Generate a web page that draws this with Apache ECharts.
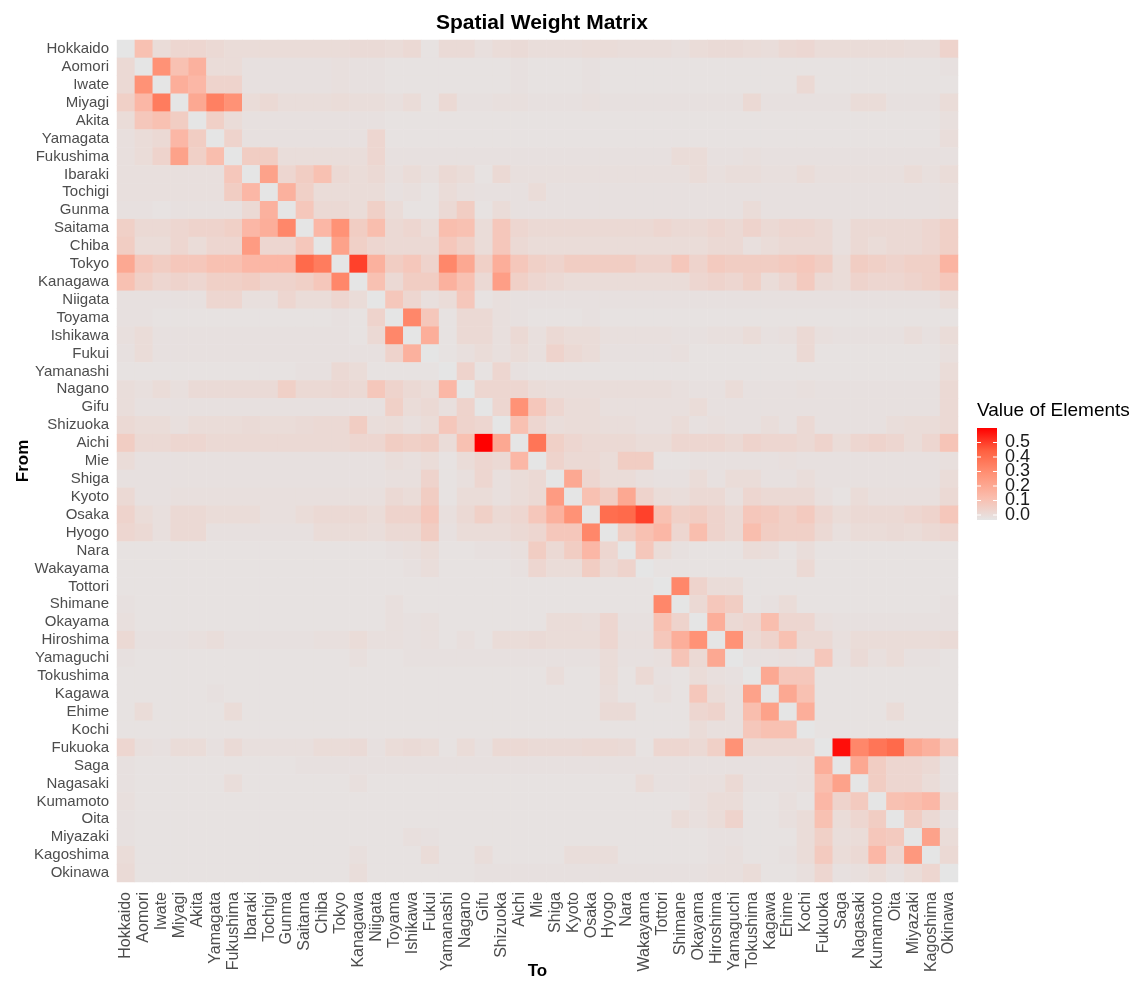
<!DOCTYPE html>
<html>
<head>
<meta charset="utf-8">
<script src="https://cdn.jsdelivr.net/npm/echarts@6/dist/echarts.min.js"></script>
<style>
html,body{margin:0;padding:0;background:#fff;}
#chart{width:1134px;height:984px;}
</style>
</head>
<body>
<div id="chart"></div>
<script>
const prefectures = ["Hokkaido","Aomori","Iwate","Miyagi","Akita","Yamagata","Fukushima","Ibaraki","Tochigi","Gunma","Saitama","Chiba","Tokyo","Kanagawa","Niigata","Toyama","Ishikawa","Fukui","Yamanashi","Nagano","Gifu","Shizuoka","Aichi","Mie","Shiga","Kyoto","Osaka","Hyogo","Nara","Wakayama","Tottori","Shimane","Okayama","Hiroshima","Yamaguchi","Tokushima","Kagawa","Ehime","Kochi","Fukuoka","Saga","Nagasaki","Kumamoto","Oita","Miyazaki","Kagoshima","Okinawa"];

// Spatial weights in percent (row = From, column = To)
const weightsPct = [
[0,12,3,5,5,4,3,3,3,3, 3,3,3,3.5,3.5,3,4,1,3.5,3.5, 2,3,3.5,2.5,2.5,2.5,3,3,2.5,2.5, 2.5,2,3,3.5,3.5,3,2.5,4,4.5,3, 3,3,3,3,2.5,2.5,6],
[4,0,27,12,17,3,3,1.5,1.5,1.5, 1.5,1.5,2,1.5,1.5,1,1,1,1,1, 1,1,1.5,1,1,1,1.5,1,1,1, 1,1,1,1,1,1,1,1,1,1, 1,1,1,1,1,1,1.5],
[4,27,0,18,15,6,6,1.5,1.5,1.5, 1.5,1.5,2,1.5,1.5,1,1,1,1,1, 1,1,1.5,1,1,1,1.5,1,1,1, 1,1,1,1,1,1,1,1,4,1, 1,1,1,1,1,1,1],
[7,15,33,0,20,32,27,3,4,2.5, 2.5,2.5,3,2.5,2.5,2,3,1,4,1.5, 1.5,2,2,1.5,1.5,1.5,2,1.5,1.5,1.5, 1.5,1.5,1.5,1.5,1.5,4,1.5,1.5,1.5,1.5, 1.5,3,3,1.5,1.5,1.5,3],
[3,10,12,8,0,7,3,1.5,1.5,1.5, 1.5,1.5,1.5,1.5,1.5,1,1,1,1,1, 1,1,1,1,1,1,1,1,1,1, 1,1,1,1,1,1,1,1,1,1, 1,1,1,1,1,1,2],
[2,3,4,15,8,0,6,1.5,1.5,1.5, 1.5,1.5,1.5,1.5,5,1,1,1,1,1, 1,1,1,1,1,1,1,1,1,1, 1,1,1,1,1,1,1,1,1,1, 1,1,1,1,1,1,2.5],
[2,3,6,22,7,13,0,8,8,2.5, 2.5,2.5,2.5,2.5,5,1.5,1.5,1.5,1.5,1.5, 1.5,1.5,1.5,1.5,1.5,1.5,1.5,1.5,1.5,1.5, 1.5,3,3,1.5,1.5,2,1.5,1.5,1.5,1.5, 1.5,1.5,1.5,1.5,1.5,1.5,1.5],
[2,2,2,2,2,2,10,0,22,5, 8,12,4,3,4,2,3,2,4,3, 1,4,2,2,2,2,2,2,2,2, 2,2,3,2,2.5,2.5,2,2,3,2, 2,2,2,2,3,2,3],
[2,2,2,2,2,2,8,15,0,17, 7,3,3,3,3,1.5,2,1,3,2, 1.5,1.5,1.5,3,1.5,1.5,1.5,1.5,1.5,1.5, 1.5,1.5,1.5,1.5,1.5,1.5,1.5,1.5,1.5,1.5, 1.5,1.5,1.5,1.5,1.5,1.5,2],
[1.5,1.5,1,1.5,1.5,1.5,1.5,4,17,0, 10,4,4,3,7,3,1,1,4,8, 1,3,1.5,1.5,1.5,1.5,1.5,1.5,1.5,1.5, 1.5,1.5,1.5,1.5,1.5,3,1.5,1.5,1.5,1.5, 1.5,1.5,1.5,1.5,1.5,1.5,2],
[7,4,4,5,6,6,7,15,18,30, 0,15,27,8,13,4,5,3,13,12, 3,10,5,4,4,4,4,4,4,4, 5,4,4,5,4,6,4,5,5,4, 2,4,4,4,4,5,7],
[8,3,3,5,3,5,5,24,5,5, 10,0,22,7,5,4,4,4,10,7, 3,10,4,3,3,3,3,3,3,3, 3,3,3,4,4,2,3,4,4,4, 2,4,3,4,4,5,7],
[20,10,8,10,10,12,12,15,15,15, 38,33,0,45,17,8,10,6,30,20, 7,18,10,7,6,8,8,8,8,6, 6,10,6,9,8,8,8,9,10,8, 3,8,7,6,7,7,16],
[12,7,5,6,5,7,7,8,6,6, 7,10,30,0,12,4,8,8,17,12, 4,23,7,5,4,3,3,3,3,3, 3,3,5,6,5,7,3,5,9,4, 3,6,5,5,6,7,10],
[1.5,1.5,1.5,1.5,1.5,5,5,2,2,5, 3,3,5,3,0,10,5,2,3,10, 1,2,1.5,1.5,1.5,1.5,1.5,1.5,1.5,1.5, 1.5,1.5,1.5,1.5,1.5,1.5,1.5,1.5,1.5,1.5, 1.5,1.5,1.5,1.5,1.5,1.5,3],
[1.5,1.5,1,1,1,1,1,1,1,1, 1,1,1.5,1,6,0,30,10,1,4, 4,2,1.5,1,1,1,1.5,1,1,1, 1,1,1,1,1,1,1,1,1,1, 1,1,1,1,1,1,1],
[2,3,1.5,1.5,1.5,1.5,1.5,1.5,1.5,1.5, 1.5,1.5,1.5,1,4,30,0,18,1,4, 4,2,4,2,4,3,3,2,2,2, 2,1.5,1.5,2,2,3,1.5,2,4,2, 1.5,1.5,1.5,1.5,2.5,1.5,3],
[1.5,3,1.5,1.5,1.5,1.5,1.5,1.5,1.5,1.5, 1.5,1.5,1.5,1.5,1.5,6,17,0,1,2, 3,2,3,2,6,4,3,1.5,1.5,1.5, 1.5,2,1,1,1,1,1,1,4,1, 1,1,1,1,1,1,2],
[1,1,1,1,1,1,1,1,1,1, 1.5,1.5,4,3,1,1,1,1,0,6, 1,5,1.5,1,1,1,1,1,1,1, 1,1,1,1,1,1,1,1,1,1, 1,1,1,1,1,1,3],
[2.5,2,3,2,3.5,3.5,3.5,3.5,3.5,7, 4,4,4.5,4,10,6,4,3,15,0, 5,5,5,3,2.5,2.5,2.5,2.5,2.5,2.5, 2.5,2,1.5,1.5,3,1.5,1.5,1.5,2,1.5, 1.5,1.5,1.5,1.5,1.5,1.5,4],
[2.5,1.5,1.5,1.5,1.5,1.5,1.5,1.5,1.5,1.5, 1.5,1.5,1.5,1.5,1.5,7,3,4,2,6, 0,5,27,10,5,3,3,2,2,2, 2,2,3,1.5,1.5,1.5,1.5,1.5,1.5,1.5, 1.5,1.5,1.5,1.5,1.5,1.5,4],
[4,3,3,2,3,3,3,3.5,3,3, 3.5,4,4,8,2.5,3,2,3,10,6, 5,0,12,5,2.5,3,3,2.5,2.5,2, 2,3,1.5,2,1.5,1.5,2.5,1.5,4,1.5, 1.5,1.5,1.5,2.5,3,3,4],
[8,4,4,5,5,4,4,4,4,4, 4,4,4,5,5,8,7,8,3,12, 54,20,0,35,7,5,4,4,4,3, 3,5,5,5,4,6,5,5,4,6, 3,5,6,5,3,5,11],
[3,1.5,1.5,1.5,1.5,1.5,1.5,1.5,1.5,1.5, 1.5,1.5,1.5,1.5,1.5,2.5,2,3,1,3, 5,4,15,0,6,4,4,3,8,8, 1,1,1.5,1.5,1.5,1.5,1.5,2,1.5,1.5, 1.5,1.5,1.5,1.5,1.5,1.5,2],
[1.5,1.5,1.5,1.5,1.5,1.5,1.5,1.5,1.5,1.5, 1.5,1.5,1.5,1.5,1.5,2,2,6,1,2, 5,2,3,4,0,20,5,3,3,2, 1.5,1.5,3,1.5,3,3,1.5,1.5,2.5,1.5, 1.5,1.5,1.5,1.5,1.5,1.5,3],
[4,1.5,1.5,2,2,2,2,2,2,2, 2,2,2,2,2,4,3,8,1,3, 3,2,3,4,24,0,12,8,20,6, 3,2.5,4,4,2,5,4,4,4,2, 1,3,2,2,2,2,4],
[6,3,2,4,4,3,3,3,2,2, 3,4,4,4,3,6,6,10,2,4, 7,4,5,10,17,27,0,37,38,45, 12,7,8,6,4,10,9,7,9,5, 3,4,4,4,5,6,10],
[5,4,2,4,4,1.5,1.5,1.5,1.5,1.5, 1.5,3,3,3,2.5,4,4,8,1.5,3, 3,3,4,5,10,10,30,0,8,12, 15,5,13,6,4,13,8,7,7,4, 2,3,3,3.5,3,4,5],
[1,1,1,1,1,1,1,1,1,1, 1,1,1,1,1,1.5,2,3,1,1, 1.5,1.5,2,8,4,8,15,5,0,10, 3,1.5,1,1,1,3,2.5,1,2.5,1, 1,1,1,1,1,1,1],
[1,1,1,1,1,1,1,1,1,1, 1,1,1,1,1,1,1.5,2.5,1,1, 1,1,1.5,5,3,3,8,4,6,0, 1,1,1,1,1,1,1,1,4,1, 1,1,1,1,1,1,1],
[1,1,1,1,1,1,1,1,1,1, 1,1,1,1,1,1,1,1,1,1, 1,1,1,1,1,1,1,1,1,1, 0,30,6,3,3,1,1,1,1,1, 1,1,1,1,1,1,1],
[1.5,1,1,1,1,1,1,1,1,1, 1,1,1,1,1,2,1,1,1,1, 1,1,1,1,1,1,1,1,1,1, 30,0,4,10,8,1,1.5,3,1,1, 1,1,1,1,1,1,1.5],
[2,1,1,1,1,1,1,1,1,1, 1,1,1,1,1,2,1.5,2,1,1, 1,1,1,1,3,3,2.5,5,1.5,1.5, 12,6,0,18,4,5,13,5,5,2, 1.5,1.5,1.5,1.5,1.5,1.5,1.5],
[4,1.5,1.5,1.5,2,2.5,1.5,1.5,1.5,1.5, 1.5,2,2,3,2,2,1.5,2,1,2, 1,3,3,3.5,3,3,3,5,2,2, 10,18,27,0,27,4,6,12,4,4, 2,3,3,3,3,3,3.5],
[1.5,1,1,1,1,1,1,1,1,1, 1,1,1,2,1,1,1.5,1.5,1.5,1.5, 1.5,1.5,1.5,1.5,1.5,1.5,1.5,3,1.5,1.5, 2,11,4,20,0,1.5,1.5,2,1.5,10, 1.5,3.5,2,3,1.5,1.5,1],
[1,1,1,1,1,1,1,1,1,1, 1,1,1,1,1,1,1,1,1,1, 1,1,1,1,2.5,1,1,3,1,4, 1.5,1,3,2,1.5,0,20,10,10,1, 1,1,1,1,1,1,1],
[1,1,1,1,1,1.5,1,1,1,1, 1,1,1,1,1,1,1,1,1,1, 1,1,1,1,1,1,1,2.5,1,1, 2,1,10,3,2,22,0,20,12,1, 1,1,1,1,1,1,1],
[1,3,1,1,1,1,3,1,1,1, 1,1,1,1,1,1,1,1,1,1, 1,1,1,1,1,1,1,3.5,3.5,1, 1,1,5,6,2,13,22,0,18,1, 1,1,1,3,1,1,1],
[1,1,1,1,1,1,1,1,1,1, 1,1,1,1,1,1,1,1,1,1, 1,1,1,1,1,1,1,1,1,1, 1,1,3,2,2,10,12,12,0,1, 1,1,1,1,1,1,1],
[5,2,1.5,3,3,1.5,3.5,2,2,2, 2,3,3,3.5,1.5,3,3.5,3,1,3, 1.5,4,4,3.5,3.5,3.5,4,4,3.5,1, 5,5,4,7,27,4,4,4,4,0, 52,30,35,38,20,17,10],
[1.5,1,1,1,1,1,1,1,1,1, 1.5,1.5,1.5,1.5,1.5,1.5,1.5,1.5,1.5,1.5, 1.5,1.5,1.5,1.5,1.5,1.5,1.5,1.5,1.5,1.5, 1.5,1.5,1.5,1.5,1.5,1.5,1.5,1.5,2,18, 0,20,8,5,5,4,1.5],
[1.5,1,1,1,1,1,2.5,1,1,1, 1,1,1,2,1,1,1,1,1,1, 1,1,1,1,1,1,1,1,1,3, 1.5,1.5,2,2,4,1.5,1.5,1.5,2,13, 22,0,8,5,5,3,1.5],
[2,1,1,1,1,1,1,1,1,1, 1,1,1,1,1,1,1,1,1,1, 1,1,1,1,1,1,1,1,1,1, 1,1,2,3,3,1,1,2,1,15, 6,9,0,12,13,15,4],
[1.5,1,1,1,1,1,1,1,1,1, 1,1,1,1,1,1,1,1,1,1, 1,1,1,1,1,1,1,1,1,1, 1,3,2,3,6,1,1,2,3,12, 3,5,8,0,8,4,1.5],
[1.5,1,1,1,1,1,1,1,1,1, 1,1,1,1,1,1,2,1.5,1,1, 1,1,1,1,1,1,1,1,1,1, 1,1,1,1.5,1.5,1,1,1,3,7, 2.5,3,10,9,0,22,3],
[3,1,1,1,1,1,1,1,1,1, 1,1,1,2,1,1,1,3,1,1, 2.5,1,1,1,1,2.5,2.5,2.5,1,1, 1,1,1,1.5,2,1,1,1.5,3,9, 3,4,15,5,25,0,4],
[3.5,1,1,1,1,1,1,1,1,1, 1,1,1,2.5,1,1,1,1,1,1, 1.5,1.5,1.5,1.5,1.5,1.5,1.5,1.5,1.5,1.5, 1.5,1.5,1.5,2,2,3,1,1,2,5, 1.5,2,3,1.5,3,5,0]
];

const legendTicks = [0, 0.1, 0.2, 0.3, 0.4, 0.5];
const colorMax = 0.54;
const colorStops = ['#E5E5E5', '#FABCAC', '#FF9276', '#FF6141', '#FF0000'];

weightsPct.forEach((r, i) => { if (r.length !== prefectures.length) throw new Error('row ' + i + ' has ' + r.length); });
if (weightsPct.length !== prefectures.length) throw new Error('rows ' + weightsPct.length);

const cells = [];
weightsPct.forEach((row, i) => row.forEach((p, j) => cells.push([j, i, p / 100])));

const FONT = 'Liberation Sans, Arial, Helvetica, sans-serif';
const chart = echarts.init(document.getElementById('chart'), null, {renderer: 'canvas'});

// legend geometry
const barX = 977, barTop = 428, barW = 20, barH = 92;
const labY = v => 515 - v * 145;
const graphics = [
  {type: 'text', left: 977, top: 401, style: {text: 'Value of Elements', font: '19px ' + FONT, fill: '#000'}},
  {type: 'rect', shape: {x: barX, y: barTop, width: barW, height: barH},
   style: {fill: new echarts.graphic.LinearGradient(0, 0, 0, 1,
     colorStops.slice().reverse().map((c, k) => ({offset: k / (colorStops.length - 1), color: c})))}}
];
legendTicks.forEach(v => {
  const y = labY(v);
  graphics.push({type: 'text', x: 1005, y: y, style: {text: v.toFixed(1), font: '18px ' + FONT, fill: '#1A1A1A', textVerticalAlign: 'middle', verticalAlign: 'middle'}});
  graphics.push({type: 'line', shape: {x1: barX, y1: y, x2: barX + 4, y2: y}, style: {stroke: '#fff', lineWidth: 1}});
  graphics.push({type: 'line', shape: {x1: barX + barW - 4, y1: y, x2: barX + barW, y2: y}, style: {stroke: '#fff', lineWidth: 1}});
});

chart.setOption({
  animation: false,
  backgroundColor: '#fff',
  textStyle: {fontFamily: FONT},
  title: {
    text: 'Spatial Weight Matrix', left: 537, top: 8, textAlign: 'center',
    textStyle: {fontSize: 21, fontWeight: 'bold', color: '#000', fontFamily: FONT}
  },
  grid: {left: 117, top: 40, width: 841, height: 842, containLabel: false, outerBoundsMode: 'none'},
  xAxis: {
    type: 'category', data: prefectures,
    name: 'To', nameLocation: 'middle', nameGap: 81, nameMoveOverlap: false,
    nameTextStyle: {fontSize: 17, fontWeight: 'bold', color: '#000', fontFamily: FONT},
    axisLabel: {rotate: 90, interval: 0, fontSize: 16, color: '#4D4D4D', margin: 10, fontFamily: FONT},
    axisTick: {alignWithLabel: true, length: 4, lineStyle: {color: '#333'}},
    axisLine: {show: false}, splitLine: {show: false}
  },
  yAxis: {
    type: 'category', data: prefectures, inverse: true,
    name: 'From', nameLocation: 'middle', nameGap: 85, nameRotate: 90, nameMoveOverlap: false,
    nameTextStyle: {fontSize: 17, fontWeight: 'bold', color: '#000', fontFamily: FONT},
    axisLabel: {interval: 0, fontSize: 15, color: '#4D4D4D', margin: 8, fontFamily: FONT},
    axisTick: {alignWithLabel: true, length: 4, lineStyle: {color: '#333'}},
    axisLine: {show: false}, splitLine: {show: false}
  },
  visualMap: {
    show: false, type: 'continuous', min: 0, max: colorMax, dimension: 2,
    inRange: {color: colorStops}
  },
  series: [{
    type: 'heatmap', data: cells, progressive: 0,
    emphasis: {disabled: true}
  }],
  graphic: graphics
});
</script>
</body>
</html>
